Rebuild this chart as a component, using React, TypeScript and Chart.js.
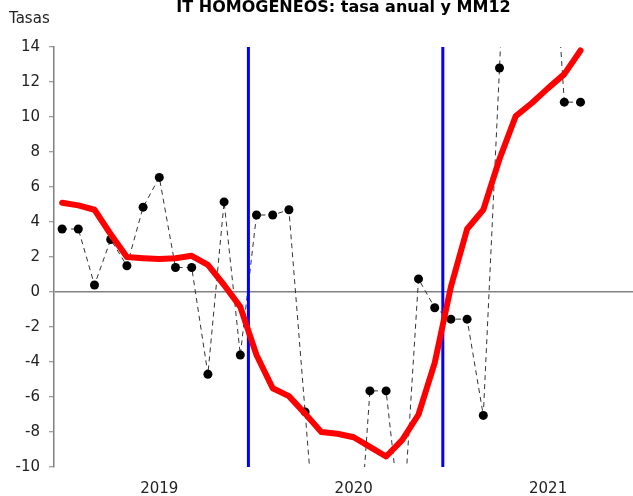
import React, { useEffect, useRef } from "react";
import { Chart, registerables } from "chart.js";

Chart.register(...registerables);

// Months (Jul 2018 .. Mar 2021)
const months = [
  "2018-07", "2018-08", "2018-09", "2018-10", "2018-11", "2018-12",
  "2019-01", "2019-02", "2019-03", "2019-04", "2019-05", "2019-06",
  "2019-07", "2019-08", "2019-09", "2019-10", "2019-11", "2019-12",
  "2020-01", "2020-02", "2020-03", "2020-04", "2020-05", "2020-06",
  "2020-07", "2020-08", "2020-09", "2020-10", "2020-11", "2020-12",
  "2021-01", "2021-02", "2021-03",
];

// Tasa anual (dashed line with black dots)
const annualRate = [
  3.6, 3.6, 0.4, 3.0, 1.5, 4.85, 6.55, 1.4, 1.4, -4.7, 5.15, -3.6,
  4.4, 4.4, 4.7, -6.85, -18.5, -22.0, -19.0, -5.65, -5.65, -14.0, 0.75, -0.9,
  -1.55, -1.55, -7.05, 12.8, 34.0, 40.0, 25.0, 10.85, 10.85,
];

// MM12 (red line)
const movingAvg12 = [
  5.1, 4.95, 4.7, 3.3, 2.0, 1.93, 1.88, 1.93, 2.07, 1.55, 0.4, -0.85,
  -3.6, -5.5, -5.95, -6.95, -8.0, -8.1, -8.3, -8.85, -9.4, -8.45, -7.0, -4.05,
  0.3, 3.6, 4.7, 7.6, 10.05, 10.8, 11.65, 12.45, 13.8,
];

// Vertical markers placed after these months
const breakMonths = ["2019-06", "2020-06"];

const yMin = -10;
const yMax = 14;
const yStep = 2;

const TITLE = "IT HOMOGENEOS: tasa anual y MM12";
const Y_TITLE = "Tasas";

const FONT = '"DejaVu Sans", Verdana, sans-serif';

const textPlugin = {
  id: "customTexts",
  afterDraw(chart: any) {
    const { ctx, chartArea } = chart;
    ctx.save();
    ctx.fillStyle = "#000";
    ctx.font = `bold 16px ${FONT}`;
    ctx.textAlign = "center";
    ctx.textBaseline = "alphabetic";
    ctx.fillText(TITLE, (chartArea.left + chartArea.right) / 2, 11.5);
    ctx.font = `15px ${FONT}`;
    ctx.fillStyle = "#222";
    ctx.textAlign = "left";
    ctx.fillText(Y_TITLE, 9, 23);
    ctx.restore();
  },
};

export default function App() {
  const ref = useRef<HTMLCanvasElement | null>(null);

  useEffect(() => {
    if (!ref.current) return;
    const januaryIdx = months
      .map((m, i) => (m.endsWith("-01") ? i : -1))
      .filter((i) => i >= 0);

    const breakDatasets = breakMonths.map((m) => {
      const x = months.indexOf(m) + 0.5;
      return {
        label: "break " + m,
        data: [
          { x, y: yMin },
          { x, y: yMax },
        ],
        borderColor: "#0000ff",
        borderWidth: 3,
        pointRadius: 0,
        order: 1,
      };
    });

    const chart = new Chart(ref.current, {
      type: "line",
      data: {
        datasets: [
          {
            label: "MM12",
            data: months.map((m, i) => ({ x: i, y: movingAvg12[i] })),
            borderColor: "#ff0000",
            borderWidth: 6,
            pointRadius: 0,
            borderJoinStyle: "round",
            borderCapStyle: "round",
            order: 0,
          },
          ...breakDatasets,
          {
            label: "Tasa anual",
            data: months.map((m, i) => ({ x: i, y: annualRate[i] })),
            borderColor: "#333333",
            borderWidth: 1,
            borderDash: [5, 4],
            pointRadius: 4.5,
            pointBackgroundColor: "#000",
            pointBorderColor: "#000",
            pointBorderWidth: 0,
            order: 2,
          },
        ],
      } as any,
      options: {
        animation: false,
        responsive: false,
        devicePixelRatio: 1,
        layout: { autoPadding: false, padding: { top: 47, left: 0, right: 0, bottom: 0 } },
        plugins: {
          legend: { display: false },
          title: { display: false },
          tooltip: { enabled: false },
        },
        scales: {
          x: {
            type: "linear",
            min: -0.5,
            max: 35.24,
            grid: { display: false, drawTicks: false },
            border: { display: false },
            afterFit: (s: any) => {
              s.height = 29;
              s.paddingLeft = 0;
              s.paddingRight = 0;
            },
            afterBuildTicks: (s: any) => {
              s.ticks = januaryIdx.map((v) => ({ value: v }));
            },
            ticks: {
              padding: 13,
              color: "#222",
              font: { family: FONT, size: 15 },
              callback: (v: any) => months[Math.round(Number(v))]?.slice(0, 4) ?? "",
              maxRotation: 0,
              autoSkip: false,
            },
          },
          y: {
            min: yMin,
            max: yMax,
            afterFit: (s: any) => {
              s.width = 54;
              s.paddingTop = 0;
              s.paddingBottom = 0;
            },
            ticks: {
              stepSize: yStep,
              padding: 9,
              color: "#222",
              font: { family: FONT, size: 15 },
            },
            grid: {
              color: (c: any) => (c.tick && c.tick.value === 0 ? "#808080" : "rgba(0,0,0,0)"),
              lineWidth: 1.5,
              tickColor: "#808080",
              tickLength: 5,
              tickWidth: 1,
            },
            border: { display: true, color: "#808080", width: 1.5 },
          },
        },
      } as any,
      plugins: [textPlugin],
    });
    return () => chart.destroy();
  }, []);

  return (
    <div style={{ position: "absolute", left: 0, top: 0, width: 633, height: 496, background: "#fff" }}>
      <canvas ref={ref} width={633} height={496} style={{ display: "block" }} />
    </div>
  );
}
